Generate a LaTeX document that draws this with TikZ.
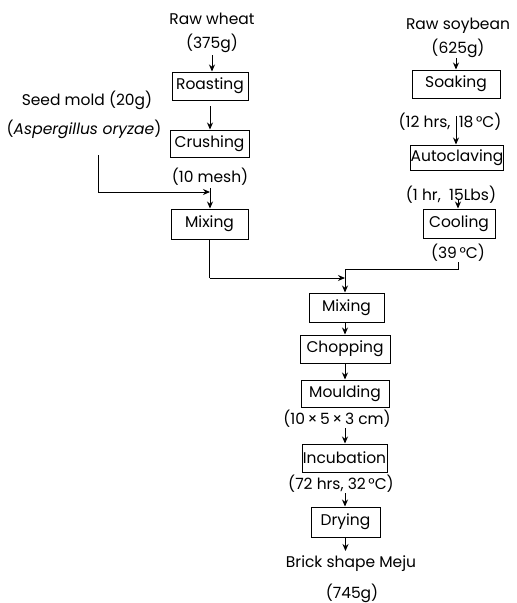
\documentclass[tikz,border=0pt]{standalone}
\usepackage{fontspec}
\setmainfont{Poppins}
\usetikzlibrary{arrows.meta}
\begin{document}
\begin{tikzpicture}[x=1pt,y=-1pt,
  lbl/.style={font=\fontsize{15.5}{17}\selectfont, inner sep=0pt},
  stepbox/.style={draw, line width=1pt, inner sep=0pt, font=\fontsize{15.5}{17}\selectfont},
  arr/.style={line width=0.9pt, -{Stealth[length=7pt,width=6pt]}},
  ln/.style={line width=0.9pt}]
\useasboundingbox (0,0) rectangle (517,603);
% text labels
\node[lbl] (rw) at (212,19) {Raw wheat};
\node[lbl] (rwg) at (212,43) {(375g)};
\node[lbl] (seed) at (87,100) {Seed mold (20g)};
\node[lbl] (asp) at (84,129) {(\textit{Aspergillus oryzae})};
\node[lbl] (mesh) at (210,177) {(10 mesh)};
\node[lbl] (rs) at (458,26) {Raw soybean};
\node[lbl] (rsg) at (458,48) {(625g)};
\node[lbl] (soakc) at (450,122) {(12 hrs,\ \ 18\,°C)};
\node[lbl] (autoc) at (451,195) {(1 hr,\ \ 15Lbs)};
\node[lbl] (coolc) at (458,253) {(39\,°C)};
\node[lbl] (mouldc) at (337,419) {(10\,×\,5\,×\,3 cm)};
\node[lbl] (incc) at (341,484) {(72 hrs, 32\,°C)};
\node[lbl] (brick) at (351,564) {Brick shape Meju};
\node[lbl] (brickg) at (352,593) {(745g)};
% boxes
\node[stepbox, minimum width=76pt, minimum height=28pt] (roast) at (210,86) {Roasting};
\node[stepbox, minimum width=79pt, minimum height=27pt] (crush) at (209.5,143.5) {Crushing};
\node[stepbox, minimum width=77pt, minimum height=30pt] (mix1) at (209.5,224) {Mixing};
\node[stepbox, minimum width=88pt, minimum height=28pt] (soak) at (456,84) {Soaking};
\node[stepbox, minimum width=92pt, minimum height=25pt] (auto) at (457,157.5) {Autoclaving};
\node[stepbox, minimum width=72pt, minimum height=29pt] (cool) at (459,223.5) {Cooling};
\node[stepbox, minimum width=75pt, minimum height=29pt] (mix2) at (346.5,307.5) {Mixing};
\node[stepbox, minimum width=90pt, minimum height=28pt] (chop) at (345,349) {Chopping};
\node[stepbox, minimum width=88pt, minimum height=27pt] (mould) at (345,393.5) {Moulding};
\node[stepbox, minimum width=85pt, minimum height=28pt] (inc) at (344.5,458) {Incubation};
\node[stepbox, minimum width=69pt, minimum height=30pt] (dry) at (345.5,522) {Drying};
% junction / start coordinates
\coordinate (a1) at (212,55);
\coordinate (a2) at (210,106);
\coordinate (a3) at (210,188);
\coordinate (sj) at (98,155);
\coordinate (mj) at (210,192);
\coordinate (m2j) at (345,278);
\coordinate (cj) at (345,269);
\coordinate (b1) at (456,58);
\coordinate (b2) at (456,116);
\coordinate (b3) at (458,199);
\coordinate (b4) at (458,262);
\coordinate (c1) at (345,428);
\coordinate (c2) at (345,493);
\coordinate (d1) at (345.5,551);
% left branch
\draw[arr] (a1) -- (a1 |- roast.north);
\draw[arr] (a2) -- (a2 |- crush.north);
\draw[arr] (a3) -- (a3 |- mix1.north);
\draw[arr] (sj) -- (sj |- mj) -- (mj);
\draw[ln] (mix1.south) -- (mix1.south |- m2j);
\draw[arr] (mix1.south |- m2j) -- (m2j);
% right branch
\draw[arr] (b1) -- (b1 |- soak.north);
\draw[arr] (b2) -- (b2 |- auto.north);
\draw[arr] (b3) -- (b3 |- cool.north);
\draw[ln] (b4) -- (b4 |- cj) -- (cj);
\draw[arr] (cj) -- (cj |- mix2.north);
% main column
\draw[arr] (mix2.south -| chop.north) -- (chop.north);
\draw[arr] (chop.south) -- (mould.north);
\draw[arr] (c1) -- (c1 |- inc.north);
\draw[arr] (c2) -- (c2 |- dry.north);
\draw[arr] (dry.south) -- (d1);
\end{tikzpicture}
\end{document}
